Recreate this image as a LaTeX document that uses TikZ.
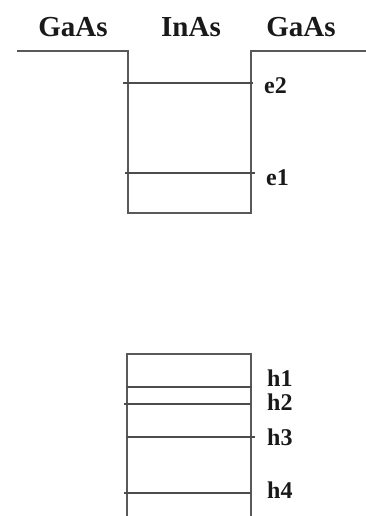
\documentclass[tikz,border=0pt]{standalone}
\usepackage{fontspec}
\setmainfont{Liberation Serif}
\begin{document}
\begin{tikzpicture}[x=1pt,y=-1pt,
  band/.style={draw=black!65,line width=1.3pt},
  level/.style={draw=black!70,line width=1.5pt},
  head/.style={font=\fontsize{29}{29}\selectfont\bfseries,anchor=base,inner sep=0pt,text=black!90},
  lab/.style={font=\fontsize{24}{24}\selectfont\bfseries,anchor=base west,inner sep=0pt,text=black!90,text height=16pt,text depth=0pt}]
\useasboundingbox (0,0) rectangle (366,516);
% headings
\node[head] (g1) at (73,37) {GaAs};
\node[head] (in) at (191,37) {InAs};
\node[head] (g2) at (301,37) {GaAs};
% conduction band
\coordinate (cl0) at (17,51);
\coordinate (cl1) at (128,51);
\coordinate (cb1) at (128,213);
\coordinate (cb2) at (251,213);
\coordinate (cr1) at (251,51);
\coordinate (cr0) at (366,51);
\draw[band] (cl0) -- (cl1) -- (cb1) -- (cb2) -- (cr1) -- (cr0);
% electron levels
\coordinate (e2a) at (123,83);
\coordinate (e2b) at (253,83);
\draw[level] (e2a) -- (e2b);
\node[lab] (le2) at (264,94) {e2};
\coordinate (e1a) at (125,173);
\coordinate (e1b) at (255,173);
\draw[level] (e1a) -- (e1b);
\node[lab] (le1) at (266,185) {e1};
% valence band
\coordinate (vl0) at (127,516);
\coordinate (vl1) at (127,354);
\coordinate (vr1) at (251,354);
\coordinate (vr0) at (251,516);
\draw[band] (vl0) -- (vl1) -- (vr1) -- (vr0);
% hole levels
\coordinate (h1a) at (127,387);
\coordinate (h1b) at (252,387);
\draw[level] (h1a) -- (h1b);
\node[lab] (lh1) at (267,386) {h1};
\coordinate (h2a) at (124,404);
\coordinate (h2b) at (251,404);
\draw[level] (h2a) -- (h2b);
\node[lab] (lh2) at (267,410) {h2};
\coordinate (h3a) at (127,437);
\coordinate (h3b) at (255,437);
\draw[level] (h3a) -- (h3b);
\node[lab] (lh3) at (267,445) {h3};
\coordinate (h4a) at (124,493);
\coordinate (h4b) at (251,493);
\draw[level] (h4a) -- (h4b);
\node[lab] (lh4) at (267,498) {h4};
\end{tikzpicture}
\end{document}
